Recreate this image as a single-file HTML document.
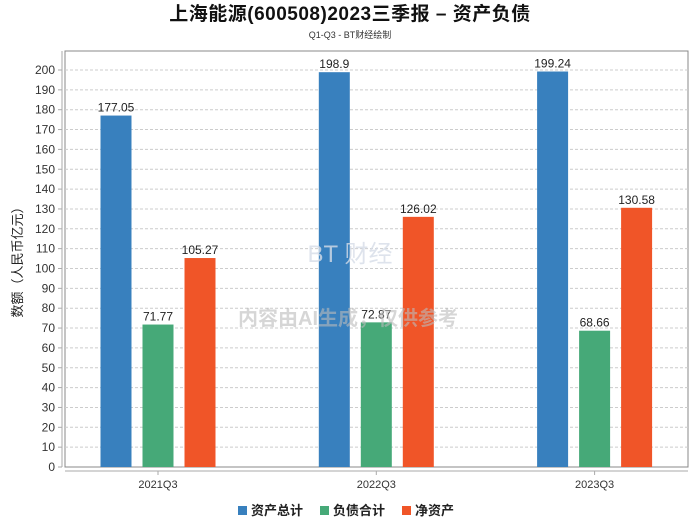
<!DOCTYPE html>
<html><head><meta charset="utf-8"><style>
body{margin:0;background:#fff}
svg text{font-family:"Liberation Sans","Noto Sans CJK SC",sans-serif}
</style></head><body>
<svg width="700" height="524" viewBox="0 0 700 524" xmlns="http://www.w3.org/2000/svg">
<text x="350" y="20" text-anchor="middle" font-size="19" font-weight="bold" letter-spacing="0.5" fill="#111">上海能源(600508)2023三季报 – 资产负债</text>
<text x="350" y="38" text-anchor="middle" font-size="9" fill="#333">Q1-Q3 - BT财经绘制</text>
<rect x="65" y="51" width="623" height="416" fill="none" stroke="#888"/>
<g id="grid"></g>
<g id="bars"></g>
<line x1="62" y1="51" x2="62" y2="467" stroke="#aaa"/>
<line x1="65" y1="471" x2="688" y2="471" stroke="#aaa"/>
<text transform="translate(22,259) rotate(-90)" text-anchor="middle" font-size="13" fill="#222">数额（人民币亿元）</text>
<text x="348" y="325" text-anchor="middle" font-size="20" font-weight="bold" fill="#bbb" opacity="0.6">内容由AI生成，仅供参考</text>
<text x="350" y="262" text-anchor="middle" font-size="24" fill="#d6dde8" opacity="0.8">BT 财经</text>
<g>
<rect x="238" y="506" width="9" height="9" fill="#3880be"/>
<text x="251" y="515" font-size="13" font-weight="bold" fill="#222">资产总计</text>
<rect x="320" y="506" width="9" height="9" fill="#46a978"/>
<text x="333" y="515" font-size="13" font-weight="bold" fill="#222">负债合计</text>
<rect x="402" y="506" width="9" height="9" fill="#f05528"/>
<text x="415" y="515" font-size="13" font-weight="bold" fill="#222">净资产</text>
</g>
</svg>
<script>
const categories=["2021Q3","2022Q3","2023Q3"];
const assets=[177.05,198.9,199.24];
const liabilities=[71.77,72.87,68.66];
const equity=[105.27,126.02,130.58];
const yTicks=[0,10,20,30,40,50,60,70,80,90,100,110,120,130,140,150,160,170,180,190,200];
const NS="http://www.w3.org/2000/svg";
const y=v=>467-v*1.985;
const xc=i=>158+i*218.3;
const g=document.getElementById('grid'),b=document.getElementById('bars'),svg=document.querySelector('svg');
function mk(t,a,p){const e=document.createElementNS(NS,t);for(const k in a)e.setAttribute(k,a[k]);p.appendChild(e);return e;}
yTicks.forEach(v=>{
 if(v>0){const l=mk('line',{x1:65,x2:688,y1:y(v),y2:y(v),stroke:'#ccc','stroke-dasharray':'3,2'},g);
 
 }
 const tk=mk('line',{x1:58,x2:62,y1:y(v),y2:y(v),stroke:'#aaa'},g);
 
 
 const t=mk('text',{x:55,y:y(v)+4,'text-anchor':'end','font-size':12,fill:'#333'},g);t.textContent=v;
 
 
});
const series=[[assets,'#3880be','assets'],[liabilities,'#46a978','liabilities'],[equity,'#f05528','equity']];
categories.forEach((c,i)=>{
 const tk=mk('line',{x1:xc(i),x2:xc(i),y1:471,y2:475,stroke:'#aaa'},g);
 
 
 const t=mk('text',{x:xc(i),y:488,'text-anchor':'middle','font-size':11,fill:'#333'},g);t.textContent=c;
 
 
 series.forEach(([d,col,n],j)=>{
  const cx=xc(i)+(j-1)*42;
  const r=mk('rect',{x:cx-15.5,y:y(d[i]),width:31,height:467-y(d[i]),fill:col},b);
  
  
  const lt=mk('text',{x:cx,y:y(d[i])-4,'text-anchor':'middle','font-size':12,fill:'#222'},b);lt.textContent=d[i];
  
  
 });
});
</script>
</body></html>
